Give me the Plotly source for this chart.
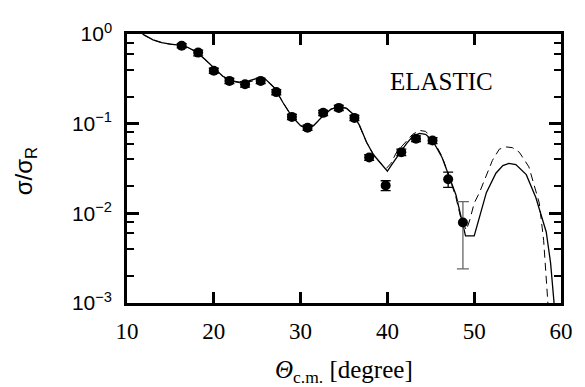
import plotly.graph_objects as go

# ---- experimental data ----
theta_exp = [16.3, 18.2, 20.0, 21.8, 23.6, 25.4, 27.2, 29.0, 30.8, 32.6, 34.4,
             36.2, 37.9, 39.8, 41.6, 43.3, 45.2, 47.0]
sigma_exp = [0.74, 0.62, 0.39, 0.30, 0.275, 0.30, 0.225, 0.119, 0.090, 0.132, 0.15,
             0.116, 0.042, 0.0204, 0.048, 0.068, 0.065, 0.024]
err_up = [0.04, 0.04, 0.025, 0.02, 0.02, 0.02, 0.015, 0.008, 0.006, 0.009, 0.01,
          0.008, 0.003, 0.0027, 0.004, 0.005, 0.005, 0.0048]
err_dn = [0.04, 0.05, 0.025, 0.02, 0.02, 0.02, 0.015, 0.008, 0.006, 0.009, 0.01,
          0.008, 0.003, 0.0025, 0.004, 0.005, 0.005, 0.0045]

theta_last = [48.7]
sigma_last = [0.0079]
err_up_last = [0.0056]
err_dn_last = [0.0055]

# ---- calculation (solid) ----
theta_solid = [11.8, 12, 13, 14, 15, 16, 17, 18, 19, 20, 21, 22, 23, 24, 25, 26, 27, 28,
               29, 30, 30.8, 31.5, 32.5, 33.5, 34.5, 35.3, 36, 36.8, 37.6, 38.4, 39.1,
               40, 40.6, 41.4, 42.2, 42.9, 43.7, 44.4, 45.2, 46.3, 47.1, 47.9, 48.5,
               49, 50, 50.7, 51.4, 52.5, 53.3, 54, 54.8, 56, 57.1, 58.3, 58.8, 59.2, 59.5]
sigma_solid = [1.0, 0.97, 0.86, 0.80, 0.77, 0.75, 0.71, 0.63, 0.52, 0.42, 0.34, 0.30,
               0.29, 0.30, 0.32, 0.31, 0.25, 0.17, 0.12, 0.095, 0.088, 0.095, 0.12, 0.145,
               0.155, 0.148, 0.129, 0.095, 0.062, 0.045, 0.037, 0.0296, 0.036, 0.047, 0.060,
               0.072, 0.078, 0.076, 0.065, 0.042, 0.026, 0.016, 0.009, 0.0056, 0.0056, 0.010,
               0.017, 0.028, 0.034, 0.036, 0.035, 0.027, 0.015, 0.0062, 0.0028, 0.001, 0.0006]

# ---- calculation (dashed) ----
theta_dash = [11.8, 12, 13, 14, 15, 16, 17, 18, 19, 20, 21, 22, 23, 24, 25, 26, 27, 28,
              29, 30, 30.8, 31.5, 32.5, 33.5, 34.5, 35.3, 36, 36.8, 37.6, 38.4, 39.1,
              39.8, 40.4, 41.0, 41.6, 42.2, 42.9, 43.7, 44.4, 45.2, 46.3, 47.1, 47.9, 48.5,
              49.1, 49.5, 50, 50.6, 51.4, 52.1, 52.9, 53.7, 54.4, 55.2, 56.3, 57.5, 58.0,
              58.3, 58.6]
sigma_dash = [1.0, 0.97, 0.86, 0.80, 0.77, 0.75, 0.71, 0.63, 0.52, 0.42, 0.34, 0.30,
              0.285, 0.29, 0.31, 0.31, 0.25, 0.17, 0.12, 0.095, 0.088, 0.096, 0.12, 0.145,
              0.156, 0.148, 0.128, 0.094, 0.062, 0.045, 0.037, 0.031, 0.036, 0.047, 0.055,
              0.064, 0.076, 0.084, 0.082, 0.068, 0.043, 0.026, 0.015, 0.0085, 0.0065, 0.0085,
              0.013, 0.017, 0.026, 0.039, 0.052, 0.055, 0.054, 0.048, 0.033, 0.013, 0.005,
              0.002, 0.0007]

# ---- axis ticks ----
x_ticks = [10, 20, 30, 40, 50, 60]
x_ticktext = ["10", "20", "30", "40", "50", "60"]
y_ticks = [1e-3, 1e-2, 1e-1, 1]
y_ticktext = ["10<sup>\u22123</sup>", "10<sup>\u22122</sup>", "10<sup>\u22121</sup>", "10<sup>0</sup>"]
y_minor = [m * 10 ** e for e in (-3, -2, -1) for m in (2, 4, 6, 8)]

SERIF = "Liberation Serif, Times New Roman, serif"
SANS = "Liberation Sans, Arial, sans-serif"

fig = go.Figure()

fig.add_trace(go.Scatter(x=theta_dash, y=sigma_dash, mode="lines",
                         line=dict(color="black", width=1, dash="8px,5px"),
                         showlegend=False, cliponaxis=True))
fig.add_trace(go.Scatter(x=theta_solid, y=sigma_solid, mode="lines",
                         line=dict(color="black", width=1.3),
                         showlegend=False, cliponaxis=True))
fig.add_trace(go.Scatter(x=theta_exp, y=sigma_exp, mode="markers",
                         marker=dict(color="black", size=10),
                         error_y=dict(type="data", symmetric=False, array=err_up,
                                      arrayminus=err_dn, color="black",
                                      thickness=1.3, width=5),
                         showlegend=False))
fig.add_trace(go.Scatter(x=theta_last, y=sigma_last, mode="markers",
                         marker=dict(color="black", size=10),
                         error_y=dict(type="data", symmetric=False, array=err_up_last,
                                      arrayminus=err_dn_last, color="#666666",
                                      thickness=1.3, width=6),
                         showlegend=False))

# page body has an 8px margin, so the figure is drawn 8px smaller and offset
fig.update_layout(
    width=577, height=379,
    margin=dict(l=119, r=15, t=14, b=84),
    paper_bgcolor="white", plot_bgcolor="white",
    showlegend=False,
    xaxis=dict(range=[10, 60], tickvals=x_ticks, ticktext=x_ticktext,
               ticks="inside", ticklen=11, tickwidth=2.5, tickcolor="black",
               showline=True, linewidth=2.5, linecolor="black", mirror="allticks",
               showgrid=False, zeroline=False,
               tickfont=dict(family=SERIF, size=23, color="black"),
               ticklabelstandoff=6),
    yaxis=dict(type="log", range=[-3, 0], tickvals=y_ticks, ticktext=y_ticktext,
               ticks="inside", ticklen=12, tickwidth=2.5, tickcolor="black",
               showline=True, linewidth=2.5, linecolor="black", mirror="allticks",
               showgrid=False, zeroline=False,
               minor=dict(tickvals=y_minor, ticks="inside", ticklen=7, tickwidth=2,
                          tickcolor="black", showgrid=False),
               tickfont=dict(family=SANS, size=21, color="black"),
               ticklabelstandoff=8),
    annotations=[
        dict(text="ELASTIC", x=0.724, y=0.824, xref="paper", yref="paper",
             showarrow=False, xanchor="center", yanchor="middle",
             font=dict(family=SERIF, size=25, color="black")),
        dict(text="\u03c3/\u03c3<sub>R</sub>", x=-0.235, y=0.49, xref="paper", yref="paper",
             showarrow=False, textangle=-90, xanchor="center", yanchor="middle",
             font=dict(family=SANS, size=24, color="black")),
        dict(text="<i>\u0398</i><sub>c.m.</sub> [degree]", x=0.5, y=-0.255,
             xref="paper", yref="paper", showarrow=False,
             xanchor="center", yanchor="middle",
             font=dict(family=SERIF, size=25, color="black")),
    ],
)

fig.write_html("out.html")
